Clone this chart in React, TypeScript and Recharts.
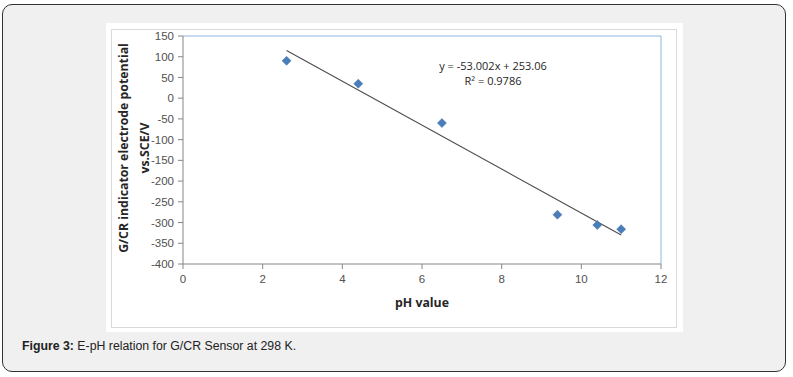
import {
  ComposedChart,
  Scatter,
  XAxis,
  YAxis,
  ReferenceLine,
  Label,
} from "recharts"

// measured points (pH, potential mV)
const phValues = [2.6, 4.4, 6.5, 9.4, 10.4, 11.0]
const potentials = [90, 35, -60, -281, -306, -316]

const xTicks = [0, 2, 4, 6, 8, 10, 12]
const yTicks = [150, 100, 50, 0, -50, -100, -150, -200, -250, -300, -350, -400]

// linear trendline from the fitted equation shown on the chart
const slope = -53.002
const intercept = 253.06
const fitRange = [2.6, 11.0]

const points = phValues.map((ph, i) => ({ ph, e: potentials[i] }))
const fitLine = fitRange.map((ph) => ({ ph, e: slope * ph + intercept }))

const tickStyle = { fontSize: 11.5, fill: "#505050", fontFamily: "Liberation Sans, Arial, sans-serif" }

function Diamond(props: any) {
  const { cx, cy } = props
  const r = 4.5
  return (
    <polygon
      points={`${cx},${cy - r} ${cx + r},${cy} ${cx},${cy + r} ${cx - r},${cy}`}
      fill="#4a7ebb"
      stroke="#3f6fa8"
      strokeWidth={0.5}
    />
  )
}

function YTitle(props: any) {
  const cy = 125
  const style = { fontSize: 12.3, fontWeight: 700, fill: "#262626", fontFamily: "Open Sans, Liberation Sans, sans-serif" }
  return (
    <g>
      <text x={22} y={cy} transform={`rotate(-90 22 ${cy})`} textAnchor="middle" {...style}>
        G/CR indicator electrode potential
      </text>
      <text x={43} y={cy} transform={`rotate(-90 43 ${cy})`} textAnchor="middle" {...style}>
        vs.SCE/V
      </text>
    </g>
  )
}

function XTitle() {
  return (
    <text
      x={316}
      y={284}
      textAnchor="middle"
      style={{ fontSize: 12.3, fontWeight: 700, fill: "#262626", fontFamily: "Open Sans, Liberation Sans, sans-serif" }}
    >
      pH value
    </text>
  )
}

export default function App() {
  return (
    <div
      style={{
        position: "absolute",
        left: 0,
        top: 0,
        width: 793,
        height: 377,
        background: "#ffffff",
      }}
    >
      <div
        style={{
          position: "absolute",
          left: 2,
          top: 4,
          width: 782,
          height: 366,
          background: "#f0f0f0",
          border: "1px solid #333",
          borderRadius: 10,
        }}
      />
      <div
        style={{
          position: "absolute",
          left: 106,
          top: 23,
          width: 577,
          height: 309,
          background: "#ffffff",
        }}
      />
      <div
        style={{
          position: "absolute",
          left: 111,
          top: 29,
          width: 564,
          height: 297,
          border: "1.5px solid #d9d9d9",
        }}
      />
      <div style={{ position: "absolute", left: 106, top: 23 }}>
        <ComposedChart
          width={577}
          height={309}
          margin={{ top: 13, right: 22, left: 0, bottom: 0 }}
        >
          <XAxis
            type="number"
            dataKey="ph"
            domain={[0, 12]}
            ticks={xTicks}
            allowDataOverflow
            height={68}
            tick={tickStyle}
            tickSize={5}
            tickMargin={6}
            stroke="#868686"
            tickLine={{ stroke: "#868686" }}
          >
            <Label content={<XTitle />} />
          </XAxis>
          <YAxis
            type="number"
            dataKey="e"
            domain={[-400, 150]}
            ticks={yTicks}
            allowDataOverflow
            width={77}
            tick={tickStyle}
            tickSize={5}
            tickMargin={4}
            stroke="#868686"
            tickLine={{ stroke: "#868686" }}
          >
            <Label content={<YTitle />} />
          </YAxis>
          <ReferenceLine y={150} stroke="#8eb4e3" strokeWidth={1} />
          <ReferenceLine x={12} stroke="#8eb4e3" strokeWidth={1} />
          <Scatter
            data={fitLine}
            line={{ stroke: "#4d4d4d", strokeWidth: 1.1 }}
            shape={() => null}
            isAnimationActive={false}
          />
          <Scatter data={points} shape={<Diamond />} isAnimationActive={false} />
        </ComposedChart>
      </div>
      <div
        style={{
          position: "absolute",
          left: 388,
          top: 58,
          width: 210,
          textAlign: "center",
          fontFamily: "Open Sans, Liberation Sans, sans-serif",
          fontSize: 11,
          lineHeight: "15px",
          color: "#262626",
        }}
      >
        y = -53.002x + 253.06
        <br />
        R² = 0.9786
      </div>
      <div
        style={{
          position: "absolute",
          left: 22,
          top: 339,
          fontFamily: "Liberation Sans, Arial, sans-serif",
          fontSize: 12.3,
          color: "#222",
        }}
      >
        <b>Figure 3:</b> E-pH relation for G/CR Sensor at 298 K.
      </div>
    </div>
  )
}
